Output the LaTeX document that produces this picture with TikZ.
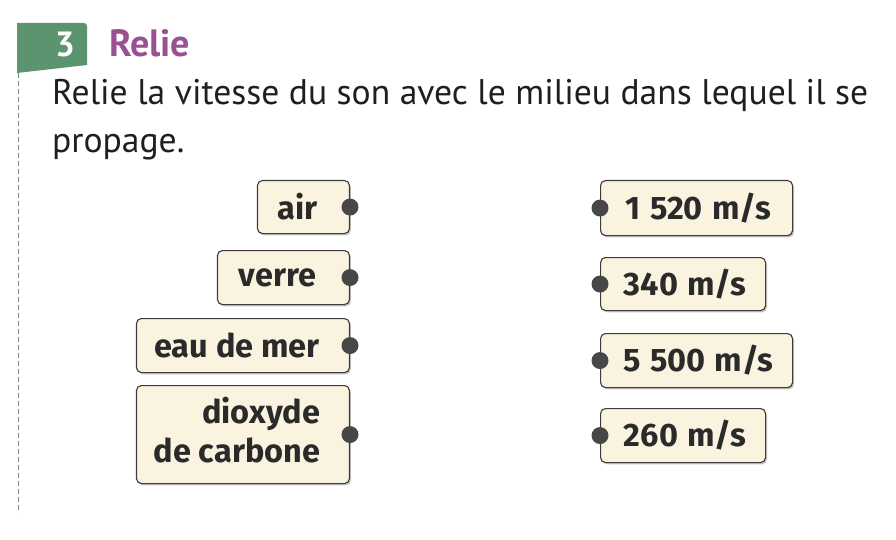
\documentclass[tikz,border=0pt]{standalone}
\usepackage{fontspec}
\setmainfont{PT Sans}
\newfontfamily\boxfont{Fira Sans}
\usetikzlibrary{shadows}
\definecolor{cream}{HTML}{FAF3E0}
\definecolor{tabgreen}{HTML}{5C9470}
\definecolor{titlepurple}{HTML}{9A5192}
\definecolor{boxline}{HTML}{3C3C3C}
\definecolor{boxtext}{HTML}{2A2A2A}
\definecolor{dotc}{HTML}{474747}
\definecolor{dashc}{HTML}{6F8F78}
\tikzset{
  tagbox/.style={draw=boxline, line width=1.1pt, fill=cream, rounded corners=5pt,
    inner sep=0pt, text=boxtext, font=\boxfont\bfseries\fontsize{32.5}{42}\selectfont,
    drop shadow={shadow xshift=1.5pt, shadow yshift=-1.8pt, fill=black!45, opacity=.5}},
  dotmark/.style={fill=dotc},
  bodytext/.style={inner sep=0pt, text=black!88, font=\fontsize{35.6}{40}\selectfont},
}
\newcommand{\numsp}{\hspace{0.28em}}
\begin{document}
\begin{tikzpicture}[x=1pt,y=-1pt]
\useasboundingbox (0,0) rectangle (896,540);
\fill[white] (0,0) rectangle (896,540);
% header tab
\fill[tabgreen] (17,73) -- (17,23) -- (84,23) arc[start angle=90,end angle=0,radius=3pt] -- (87,65) -- cycle;
\node[anchor=base, inner sep=0pt, text=white, font=\bfseries\fontsize{35}{35}\selectfont] (num) at (65,57) {3};
\node[anchor=base west, inner sep=0pt, text=titlepurple, font=\bfseries\fontsize{38}{38}\selectfont] (title) at (109,57) {Relie};
\draw[dashc, line width=0.9pt, dash pattern=on 5pt off 3pt] (18,73) -- (18,513);
\node[bodytext, anchor=base west] (l1) at (52,105) {Relie la vitesse du son avec le milieu dans lequel il se};
\node[bodytext, anchor=base west] (l2) at (52,153) {propage.};
% left boxes
\node[tagbox, anchor=north east, minimum width=92pt, minimum height=53pt] (air) at (350,180) {air\kern12pt};
\node[tagbox, anchor=north east, minimum width=132pt, minimum height=54pt] (verre) at (350,250) {verre\kern12pt};
\node[tagbox, anchor=north east, minimum width=213pt, minimum height=54pt] (eau) at (350,318) {eau de mer\kern12pt};
\node[tagbox, anchor=north east, minimum width=213pt, minimum height=98pt] (co2) at (350,385)
  {\begin{tabular}{@{}r@{}}dioxyde\\[-3pt]de carbone\end{tabular}\kern12pt};
% right boxes
\node[tagbox, anchor=north west, minimum width=192pt, minimum height=55pt] (v1) at (600,180) {\kern4pt 1\numsp 520\numsp m/s};
\node[tagbox, anchor=north west, minimum width=165pt, minimum height=53pt] (v2) at (600,257) {\kern4pt 340\numsp m/s};
\node[tagbox, anchor=north west, minimum width=192pt, minimum height=54pt] (v3) at (600,333) {\kern4pt 5\numsp 500\numsp m/s};
\node[tagbox, anchor=north west, minimum width=165pt, minimum height=54pt] (v4) at (600,408) {\kern4pt 260\numsp m/s};
% dots
\foreach \n in {air,verre,eau,co2} \fill[dotmark] (\n.east) circle[radius=8.5pt];
\foreach \n in {v1,v2,v3,v4} \fill[dotmark] (\n.west) circle[radius=8.5pt];
\end{tikzpicture}
\end{document}
